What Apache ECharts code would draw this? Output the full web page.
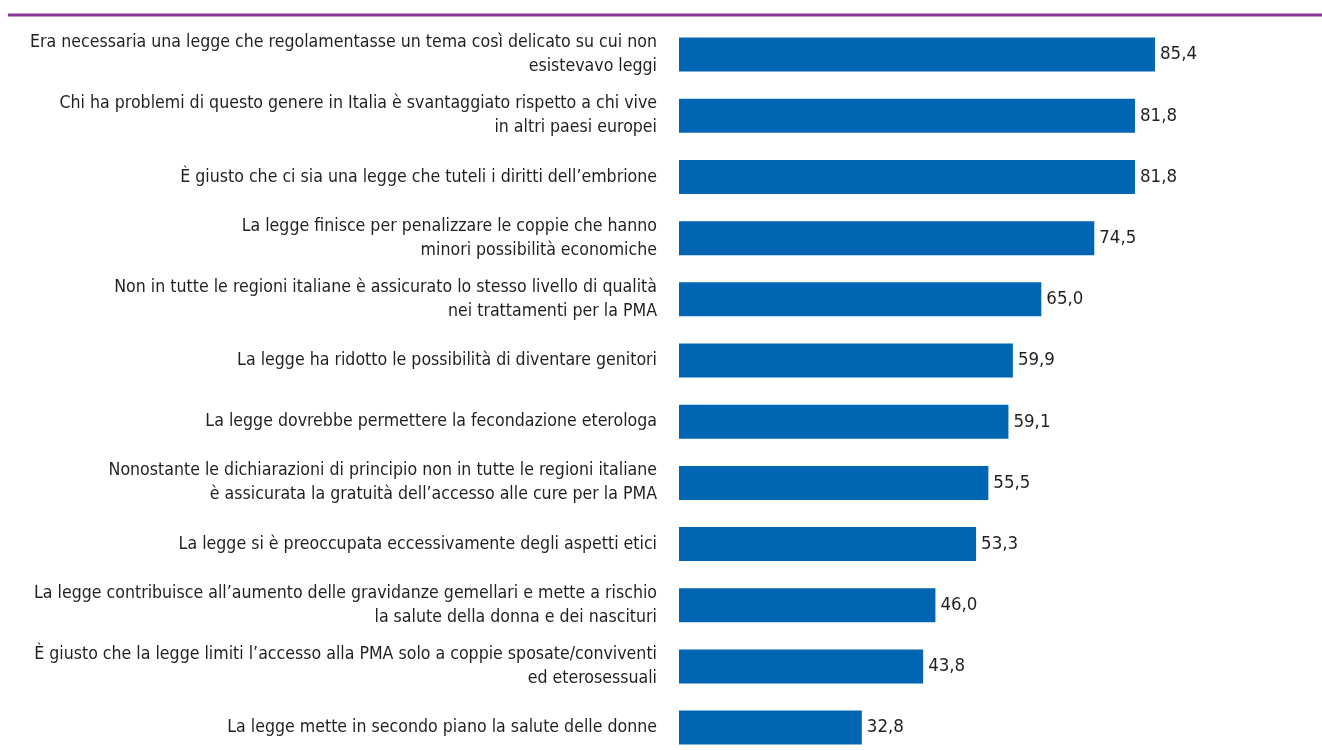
<!DOCTYPE html>
<html>
<head>
<meta charset="utf-8">
<script src="https://cdn.jsdelivr.net/npm/echarts@6/dist/echarts.min.js"></script>
<style>
  html, body { margin: 0; padding: 0; background: #ffffff; }
  #chart { width: 1322px; height: 750px; }
</style>
</head>
<body>
<div id="chart"></div>
<script>
// Statements about the law, top to bottom
const categories = [
  "Era necessaria una legge che regolamentasse un tema così delicato su cui non\nesistevavo leggi",
  "Chi ha problemi di questo genere in Italia è svantaggiato rispetto a chi vive\nin altri paesi europei",
  "È giusto che ci sia una legge che tuteli i diritti dell’embrione",
  "La legge finisce per penalizzare le coppie che hanno\nminori possibilità economiche",
  "Non in tutte le regioni italiane è assicurato lo stesso livello di qualità\nnei trattamenti per la PMA",
  "La legge ha ridotto le possibilità di diventare genitori",
  "La legge dovrebbe permettere la fecondazione eterologa",
  "Nonostante le dichiarazioni di principio non in tutte le regioni italiane\nè assicurata la gratuità dell’accesso alle cure per la PMA",
  "La legge si è preoccupata eccessivamente degli aspetti etici",
  "La legge contribuisce all’aumento delle gravidanze gemellari e mette a rischio\nla salute della donna e dei nascituri",
  "È giusto che la legge limiti l’accesso alla PMA solo a coppie sposate/conviventi\ned eterosessuali",
  "La legge mette in secondo piano la salute delle donne"
];

// Share of agreement (%)
const values = [85.4, 81.8, 81.8, 74.5, 65.0, 59.9, 59.1, 55.5, 53.3, 46.0, 43.8, 32.8];

const FONT = '"DejaVu Sans Condensed", "Liberation Sans Narrow", "Roboto", sans-serif';
const TEXT = '#231f20';

const chart = echarts.init(document.getElementById('chart'), null, { renderer: 'canvas' });

chart.setOption({
  animation: false,
  backgroundColor: '#ffffff',
  graphic: [{
    type: 'line',
    shape: { x1: 8, y1: 15, x2: 1322, y2: 15 },
    style: { stroke: '#8b3497', lineWidth: 3 },
    silent: true
  }],
  grid: {
    left: 679, right: 85.6, top: 24, height: 734.2,
    containLabel: false,
    outerBoundsMode: 'none'
  },
  xAxis: {
    type: 'value',
    min: 0,
    max: 100,
    show: false
  },
  yAxis: {
    type: 'category',
    data: categories,
    inverse: true,
    axisLine: { show: false },
    axisTick: { show: false },
    splitLine: { show: false },
    axisLabel: {
      margin: 22,
      align: 'right',
      color: TEXT,
      fontFamily: FONT,
      fontSize: 17.6,
      lineHeight: 24
    }
  },
  series: [{
    type: 'bar',
    data: values,
    barWidth: 34,
    itemStyle: { color: '#0065b3' },
    label: {
      show: true,
      position: 'right',
      distance: 5,
      color: TEXT,
      fontFamily: FONT,
      fontSize: 18.5,
      formatter: p => p.value.toFixed(1).replace('.', ',')
    }
  }]
});
</script>
</body>
</html>
